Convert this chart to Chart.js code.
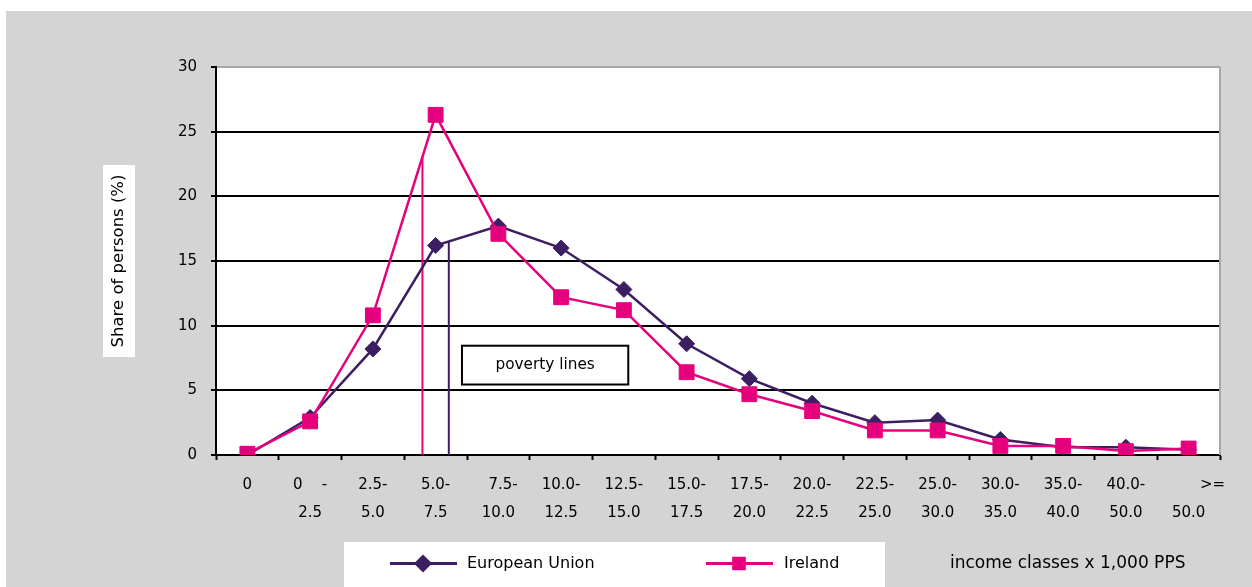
<!DOCTYPE html>
<html>
<head>
<meta charset="utf-8">
<script src="https://cdn.jsdelivr.net/npm/chart.js@4/dist/chart.umd.min.js"></script>
<style>
  html, body { margin: 0; padding: 0; background: #fff; }
  #wrap { width: 1252px; height: 587px; position: relative; }
</style>
</head>
<body>
<div id="wrap"><canvas id="incomeChart"></canvas></div>
<script>
// income classes (x 1,000 PPS)
const categories = [
  '0',
  ['0    -', '2.5'],
  ['2.5-', '5.0'],
  ['5.0-', '7.5'],
  ['  7.5-', '10.0'],
  ['10.0-', '12.5'],
  ['12.5-', '15.0'],
  ['15.0-', '17.5'],
  ['17.5-', '20.0'],
  ['20.0-', '22.5'],
  ['22.5-', '25.0'],
  ['25.0-', '30.0'],
  ['30.0-', '35.0'],
  ['35.0-', '40.0'],
  ['40.0-', '50.0'],
  ['          >=', '50.0']
];

// share of persons (%)
const euValues = [0, 2.9, 8.2, 16.2, 17.7, 16.0, 12.8, 8.6, 5.9, 4.0, 2.5, 2.7, 1.2, 0.6, 0.6, 0.4];
const irelandValues = [0.1, 2.6, 10.8, 26.3, 17.1, 12.2, 11.2, 6.4, 4.7, 3.4, 1.9, 1.9, 0.7, 0.7, 0.3, 0.5];

const yTicks = [0, 5, 10, 15, 20, 25, 30];

// poverty lines, position along the income axis (in class units)
const povertyIreland = 2.79;
const povertyEU = 3.21;

const EU_COLOR = '#3c1f62';
const IE_COLOR = '#e5007d';
const GREY = '#d4d4d4';
const FONT = 'DejaVu Sans';

Chart.defaults.color = '#000';
Chart.defaults.font.family = FONT;

// value on a series at a fractional class position
function valueAt(data, pos) {
  const i = Math.floor(pos);
  const f = pos - i;
  return data[i] * (1 - f) + data[i + 1] * f;
}

const extras = {
  id: 'extras',
  beforeDraw(chart) {
    const ctx = chart.ctx;
    const a = chart.chartArea;
    ctx.save();
    ctx.fillStyle = '#fff';
    ctx.fillRect(0, 0, chart.width, chart.height);
    ctx.fillStyle = GREY;
    ctx.fillRect(6, 11, chart.width - 6, chart.height - 11);
    ctx.fillStyle = '#fff';
    ctx.fillRect(a.left, a.top, a.right - a.left, a.bottom - a.top);
    // box behind the y title
    ctx.fillRect(103, 165, 32, 192);
    ctx.restore();
  },
  beforeDatasetsDraw(chart) {
    const ctx = chart.ctx;
    const xs = chart.scales.x, ys = chart.scales.y;
    const lines = [
      { pos: povertyIreland, data: irelandValues, color: IE_COLOR },
      { pos: povertyEU, data: euValues, color: EU_COLOR }
    ];
    ctx.save();
    ctx.lineWidth = 2;
    lines.forEach(l => {
      const x = xs.getPixelForValue(l.pos);
      ctx.strokeStyle = l.color;
      ctx.beginPath();
      ctx.moveTo(x, ys.getPixelForValue(0));
      ctx.lineTo(x, ys.getPixelForValue(valueAt(l.data, l.pos)));
      ctx.stroke();
    });
    ctx.restore();
  },
  afterDraw(chart) {
    const ctx = chart.ctx;
    const a = chart.chartArea;
    const xs = chart.scales.x, ys = chart.scales.y;
    ctx.save();
    // right border of plot area
    ctx.strokeStyle = '#a8a8a8';
    ctx.lineWidth = 2;
    ctx.beginPath();
    ctx.moveTo(a.right, a.top);
    ctx.lineTo(a.right, a.bottom);
    ctx.stroke();

    // "poverty lines" label box
    const bx1 = xs.getPixelForValue(3.42), bx2 = xs.getPixelForValue(6.07);
    const by1 = ys.getPixelForValue(8.45), by2 = ys.getPixelForValue(5.45);
    ctx.fillStyle = '#fff';
    ctx.fillRect(bx1, by1, bx2 - bx1, by2 - by1);
    ctx.strokeStyle = '#000';
    ctx.lineWidth = 2;
    ctx.strokeRect(bx1, by1, bx2 - bx1, by2 - by1);
    ctx.fillStyle = '#000';
    ctx.font = '15.3px ' + FONT;
    ctx.textAlign = 'center';
    ctx.textBaseline = 'middle';
    ctx.fillText('poverty lines', (bx1 + bx2) / 2, (by1 + by2) / 2);

    // legend
    ctx.fillStyle = '#fff';
    ctx.fillRect(344, 542, 541, 50);
    const items = [
      { ds: chart.data.datasets[1], x: 390, tx: 467 },
      { ds: chart.data.datasets[0], x: 706, tx: 784 }
    ];
    items.forEach(it => {
      const y = 563.5;
      ctx.strokeStyle = it.ds.borderColor;
      ctx.lineWidth = 3;
      ctx.beginPath();
      ctx.moveTo(it.x, y);
      ctx.lineTo(it.x + 67, y);
      ctx.stroke();
      Chart.helpers.drawPoint(ctx, {
        pointStyle: it.ds.pointStyle,
        radius: it.ds.pointStyle === 'rect' ? 7.5 : 7,
        borderWidth: 1
      }, it.x + 33, y);
      ctx.fillStyle = it.ds.borderColor;
      ctx.fill();
      ctx.fillStyle = '#000';
      ctx.font = '16px ' + FONT;
      ctx.textAlign = 'left';
      ctx.textBaseline = 'middle';
      ctx.fillText(it.ds.label, it.tx, y);
    });

    ctx.font = '17px ' + FONT;
    ctx.fillText('income classes x 1,000 PPS', 950, 563.5);
    ctx.restore();
  }
};

new Chart(document.getElementById('incomeChart'), {
  type: 'line',
  data: {
    labels: categories,
    datasets: [
      {
        label: 'Ireland',
        data: irelandValues,
        borderColor: IE_COLOR,
        backgroundColor: IE_COLOR,
        borderWidth: 2.5,
        pointStyle: 'rect',
        pointRadius: 10.5,
        pointBorderWidth: 1,
        tension: 0,
        order: 0
      },
      {
        label: 'European Union',
        data: euValues,
        borderColor: EU_COLOR,
        backgroundColor: EU_COLOR,
        borderWidth: 2.5,
        pointStyle: 'rectRot',
        pointRadius: 8,
        pointBorderWidth: 1,
        tension: 0,
        order: 1
      }
    ]
  },
  options: {
    responsive: true,
    maintainAspectRatio: false,
    animation: false,
    layout: { padding: { left: 0, top: 67, right: 32, bottom: 0 } },
    plugins: {
      legend: { display: false },
      tooltip: { enabled: false }
    },
    scales: {
      x: {
        offset: true,
        afterFit: s => { s.height = 132; },
        grid: {
          offset: true,
          drawOnChartArea: false,
          tickLength: 5,
          tickWidth: 2,
          tickColor: '#000'
        },
        border: { display: true, color: '#000', width: 2 },
        ticks: {
          autoSkip: false,
          maxRotation: 0,
          padding: 11,
          font: { size: 15, lineHeight: 1.87 }
        }
      },
      y: {
        min: 0,
        max: 30,
        afterFit: s => { s.width = 216; },
        afterBuildTicks: s => { s.ticks = yTicks.map(v => ({ value: v })); },
        grid: {
          color: c => (c.tick && c.tick.value === 30 ? '#a8a8a8' : '#000'),
          lineWidth: 2,
          tickLength: 5,
          tickWidth: 2,
          tickColor: '#000'
        },
        border: { display: true, color: '#000', width: 2 },
        ticks: { padding: 14, font: { size: 15 } },
        title: {
          display: true,
          text: 'Share of persons (%)',
          font: { size: 16.5 },
          padding: { top: 109, bottom: 0 }
        }
      }
    }
  },
  plugins: [extras]
});
</script>
</body>
</html>
